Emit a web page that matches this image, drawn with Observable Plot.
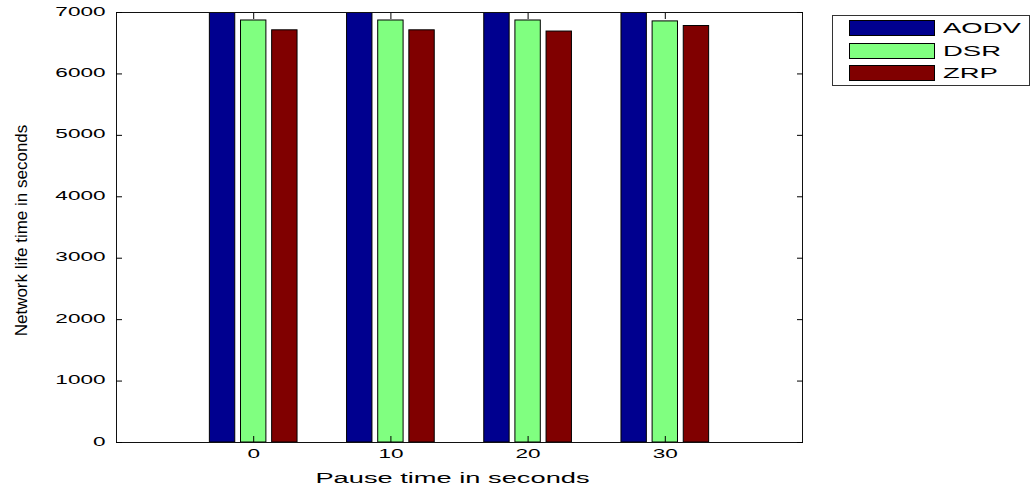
<!DOCTYPE html>
<html><head><meta charset="utf-8">
<script src="https://cdn.jsdelivr.net/npm/d3@7"></script>
<script src="https://cdn.jsdelivr.net/npm/@observablehq/plot@0.6"></script>
<style>
body{margin:0;background:#fff;}
#chart{position:relative;width:1032px;height:488px;font-family:"Liberation Sans",Arial,sans-serif;}
#legend{position:absolute;left:832px;top:15px;width:198px;height:71px;border:1px solid #333;background:#fff;box-sizing:border-box;}
.lrow{position:absolute;left:16px;height:16px;width:160px;}
.sw{position:absolute;left:0;top:0;width:86px;height:16px;border:1px solid #000;box-sizing:border-box;}
.lt{position:absolute;left:94px;top:-1px;font-size:15px;line-height:18px;transform:scaleX(1.83);transform-origin:left center;color:#000;white-space:nowrap;}
</style></head>
<body><div id="chart"></div>
<script>
const pauseTimes = [0, 10, 20, 30];
const protocols = ["AODV", "DSR", "ZRP"];
const aodv = [7300, 7300, 7300, 7300];
const dsr = [6870, 6870, 6870, 6855];
const zrp = [6710, 6710, 6690, 6780];
const colors = ["#00008f", "#80ff80", "#800000"];
const yTicks = [0, 1000, 2000, 3000, 4000, 5000, 6000, 7000];
const xTicks = [0, 10, 20, 30];
const yLabel = "Network life time in seconds";
const xLabel = "Pause time in seconds";

const series = [aodv, dsr, zrp];
const rows = protocols.flatMap((p, i) => pauseTimes.map((t, j) => ({pause: t, protocol: p, idx: i, value: series[i][j]})));

const slot = 2.27, barW = 1.85;
const fmt = d => String(d);

const svg = Plot.plot({
  width: 1032, height: 488,
  marginLeft: 116, marginRight: 230, marginTop: 12, marginBottom: 46,
  style: {fontFamily: '"Liberation Sans", Arial, sans-serif', fontSize: "12px", color: "#000", background: "#fff", overflow: "visible"},
  x: {type: "linear", domain: [-10, 40]},
  y: {domain: [0, 7000]},
  color: {domain: protocols, range: colors},
  marks: [
    Plot.rect(rows, {
      x1: d => d.pause + (d.idx - 1) * slot - barW / 2,
      x2: d => d.pause + (d.idx - 1) * slot + barW / 2,
      y1: () => 0, y2: "value",
      fill: "protocol", stroke: "#000", strokeWidth: 1, clip: true
    }),
    Plot.frame({stroke: "#111"}),
    Plot.axisY(yTicks, {anchor: "left", tickSize: -6, text: null, label: null, tickFormat: fmt}),
    Plot.axisY(yTicks, {anchor: "left", tickSize: 0, tickPadding: 11, dy: 3, label: null, tickFormat: fmt}),
    Plot.axisY(yTicks, {anchor: "right", tickSize: -6, text: null, label: null, tickFormat: fmt}),
    Plot.axisX(xTicks, {anchor: "bottom", tickSize: -6, text: null, label: null, tickFormat: fmt}),
    Plot.axisX(xTicks, {anchor: "bottom", tickSize: 0, tickPadding: 15, label: null, tickFormat: fmt}),
    Plot.axisX(xTicks, {anchor: "top", tickSize: -6, text: null, label: null, tickFormat: fmt}),
    Plot.text([yLabel], {text: d => d, frameAnchor: "left", textAnchor: "middle", rotate: -90, lineAnchor: "bottom", dx: -90, dy: 3, fontSize: 17, fill: "#000"}),
    Plot.text([xLabel], {text: d => d, frameAnchor: "bottom", textAnchor: "middle", lineAnchor: "bottom", dy: 40, dx: -7, fontSize: 14.5, fill: "#000"})
  ]
});

// stretch horizontal text to match the reference's wide lettering
svg.querySelectorAll("text").forEach(t => {
  const tr = t.getAttribute("transform") || "";
  if (tr.includes("rotate")) return;
  const x = +t.getAttribute("x") || 0, y = +t.getAttribute("y") || 0;
  t.removeAttribute("x"); t.removeAttribute("y");
  t.setAttribute("transform", `${tr} translate(${x},${y}) scale(1.88,1)`);
});

const chart = document.getElementById("chart");
chart.appendChild(svg);

const legend = document.createElement("div");
legend.id = "legend";
const tops = [4, 27, 49];
protocols.forEach((p, i) => {
  const row = document.createElement("div");
  row.className = "lrow";
  row.style.top = tops[i] + "px";
  const sw = document.createElement("div");
  sw.className = "sw";
  sw.style.background = colors[i];
  const lt = document.createElement("span");
  lt.className = "lt";
  lt.textContent = p;
  row.appendChild(sw); row.appendChild(lt);
  legend.appendChild(row);
});
chart.appendChild(legend);
</script>
</body></html>
